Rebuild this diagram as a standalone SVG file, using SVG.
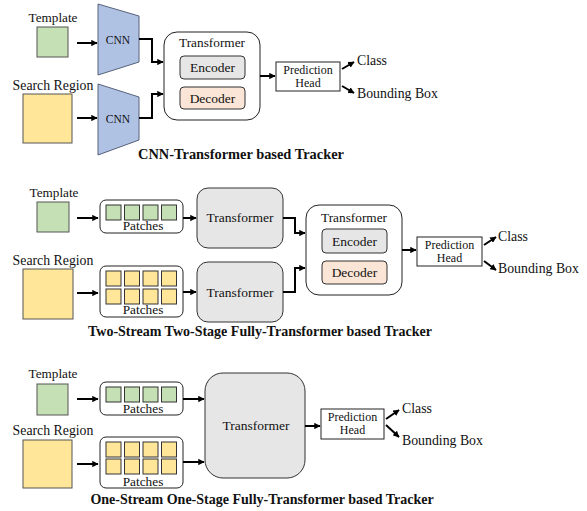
<svg xmlns="http://www.w3.org/2000/svg" width="587" height="511" viewBox="0 0 587 511">
<defs>
<marker id="ah" viewBox="0 0 10 10" refX="9" refY="5" markerWidth="3.2" markerHeight="3.2" orient="auto" markerUnits="strokeWidth">
<path d="M0,0 L10,5 L0,10 z" fill="#000"/>
</marker>
</defs>
<style>
text{font-family:"Liberation Serif",serif;fill:#111}
.lbl{font-size:13.3px;text-anchor:middle}
.tp{font-size:13.2px;text-anchor:middle}
.sr{font-size:13.8px;text-anchor:middle}
.cnnt{font-size:11.5px;text-anchor:middle}
.ed{font-size:13.5px;text-anchor:middle}
.out{font-size:13.8px}
.cap{font-size:14px;font-weight:bold;text-anchor:middle}
.ph{font-size:12px;text-anchor:middle}
.tpl{fill:#c5e0b4;stroke:#555;stroke-width:1}
.srch{fill:#ffe699;stroke:#555;stroke-width:1}
.gp{fill:#c5e0b4;stroke:#333;stroke-width:1}
.yp{fill:#ffe699;stroke:#333;stroke-width:1}
.cnn{fill:#b0c2e4;stroke:#56627a;stroke-width:1}
.box{fill:#fff;stroke:#222;stroke-width:1}
.gray{fill:#e7e6e6;stroke:#333;stroke-width:1}
.dec{fill:#fbe5d6;stroke:#333;stroke-width:1}
.c{fill:none;stroke:#000;stroke-width:2;marker-end:url(#ah)}
</style>

<!-- Section 1 -->
<g id="s1-template"><text class="tp" x="53" y="22">Template</text><rect class="tpl" x="37" y="27" width="31" height="30"/></g>
<g id="s1-search"><text class="sr" x="53" y="90">Search Region</text><rect class="srch" x="23" y="94" width="49" height="49"/></g>
<g id="s1-cnn1"><polygon class="cnn" points="98,4 139,16 139,62 98,75"/><text class="cnnt" x="118" y="44">CNN</text></g>
<g id="s1-cnn2"><polygon class="cnn" points="98,84 139,97 139,140 98,155"/><text class="cnnt" x="118" y="123">CNN</text></g>
<g id="s1-transformer"><rect class="box" x="164" y="32" width="96" height="88" rx="13"/><text class="lbl" x="212" y="47">Transformer</text></g>
<g id="s1-encoder"><rect class="gray" x="180" y="56" width="65" height="23" rx="4"/><text class="ed" x="212.5" y="72">Encoder</text></g>
<g id="s1-decoder"><rect class="dec" x="180" y="87" width="65" height="22" rx="4"/><text class="ed" x="212.5" y="103">Decoder</text></g>
<g id="s1-head"><rect class="box" x="276" y="62" width="64" height="29"/><text class="ph" x="308" y="74">Prediction</text><text class="ph" x="308" y="87">Head</text></g>
<g id="s1-outputs"><text class="out" x="357" y="65">Class</text><text class="out" x="357" y="98">Bounding Box</text></g>
<g id="s1-caption"><text class="cap" x="241" y="159" style="font-size:14.4px">CNN-Transformer based Tracker</text></g>

<!-- Section 2 -->
<g id="s2-template"><text class="tp" x="54" y="197">Template</text><rect class="tpl" x="37" y="202" width="32" height="30"/></g>
<g id="s2-search"><text class="sr" x="53" y="265">Search Region</text><rect class="srch" x="23" y="269" width="50" height="50"/></g>
<g id="s2-patches1"><rect class="box" x="100" y="200" width="83" height="33" rx="6"/>
<rect class="gp" x="106" y="205" width="15" height="15"/><rect class="gp" x="124.5" y="205" width="15" height="15"/><rect class="gp" x="143" y="205" width="15" height="15"/><rect class="gp" x="161.5" y="205" width="15" height="15"/>
<text class="lbl" x="143" y="230">Patches</text></g>
<g id="s2-patches2"><rect class="box" x="100" y="266" width="83" height="51" rx="6"/>
<rect class="yp" x="106" y="271" width="15" height="15"/><rect class="yp" x="124.5" y="271" width="15" height="15"/><rect class="yp" x="143" y="271" width="15" height="15"/><rect class="yp" x="161.5" y="271" width="15" height="15"/>
<rect class="yp" x="106" y="289" width="15" height="15"/><rect class="yp" x="124.5" y="289" width="15" height="15"/><rect class="yp" x="143" y="289" width="15" height="15"/><rect class="yp" x="161.5" y="289" width="15" height="15"/>
<text class="lbl" x="143" y="314">Patches</text></g>
<g id="s2-trans1"><rect class="gray" x="197" y="188" width="86" height="60" rx="11"/><text class="lbl" x="240" y="222" style="font-size:13.5px">Transformer</text></g>
<g id="s2-trans2"><rect class="gray" x="197" y="262" width="86" height="60" rx="11"/><text class="lbl" x="240" y="297" style="font-size:13.5px">Transformer</text></g>
<g id="s2-transformer"><rect class="box" x="306" y="205" width="96" height="90" rx="13"/><text class="lbl" x="354" y="222">Transformer</text></g>
<g id="s2-encoder"><rect class="gray" x="322" y="229" width="65" height="24" rx="4"/><text class="ed" x="354.5" y="246">Encoder</text></g>
<g id="s2-decoder"><rect class="dec" x="322" y="261" width="65" height="23" rx="4"/><text class="ed" x="354.5" y="277">Decoder</text></g>
<g id="s2-head"><rect class="box" x="417" y="237" width="65" height="29"/><text class="ph" x="449.5" y="249">Prediction</text><text class="ph" x="449.5" y="262">Head</text></g>
<g id="s2-outputs"><text class="out" x="498" y="241">Class</text><text class="out" x="498" y="273">Bounding Box</text></g>
<g id="s2-caption"><text class="cap" x="260" y="336">Two-Stream Two-Stage Fully-Transformer based Tracker</text></g>

<!-- Section 3 -->
<g id="s3-template"><text class="tp" x="53" y="378">Template</text><rect class="tpl" x="37" y="384" width="31" height="31"/></g>
<g id="s3-search"><text class="sr" x="53" y="435">Search Region</text><rect class="srch" x="23" y="440" width="49" height="48"/></g>
<g id="s3-patches1"><rect class="box" x="100" y="382" width="83" height="33" rx="6"/>
<rect class="gp" x="106" y="387" width="15" height="15"/><rect class="gp" x="124.5" y="387" width="15" height="15"/><rect class="gp" x="143" y="387" width="15" height="15"/><rect class="gp" x="161.5" y="387" width="15" height="15"/>
<text class="lbl" x="143" y="413">Patches</text></g>
<g id="s3-patches2"><rect class="box" x="100" y="437" width="83" height="51" rx="6"/>
<rect class="yp" x="106" y="442" width="15" height="15"/><rect class="yp" x="124.5" y="442" width="15" height="15"/><rect class="yp" x="143" y="442" width="15" height="15"/><rect class="yp" x="161.5" y="442" width="15" height="15"/>
<rect class="yp" x="106" y="459" width="15" height="15"/><rect class="yp" x="124.5" y="459" width="15" height="15"/><rect class="yp" x="143" y="459" width="15" height="15"/><rect class="yp" x="161.5" y="459" width="15" height="15"/>
<text class="lbl" x="143" y="486">Patches</text></g>
<g id="s3-transformer"><rect class="gray" x="205" y="373" width="100" height="105" rx="18"/><text class="lbl" x="256" y="430" style="font-size:13.5px">Transformer</text></g>
<g id="s3-head"><rect class="box" x="321" y="409" width="63" height="30"/><text class="ph" x="352.5" y="421">Prediction</text><text class="ph" x="352.5" y="434">Head</text></g>
<g id="s3-outputs"><text class="out" x="402" y="413">Class</text><text class="out" x="402" y="445">Bounding Box</text></g>
<g id="s3-caption"><text class="cap" x="262" y="504">One-Stream One-Stage Fully-Transformer based Tracker</text></g>

<g id="connectors">
<path class="c" d="M77,43 H97"/>
<path class="c" d="M77,118 H97"/>
<path class="c" d="M139,39 H152 V62 H163"/>
<path class="c" d="M139,118 H152 V94 H163"/>
<path class="c" d="M260,76 H275"/>
<path class="c" d="M342,69 L354,62"/>
<path class="c" d="M342,86 L354,93"/>
<path class="c" d="M77,218 H98"/>
<path class="c" d="M77,293 H98"/>
<path class="c" d="M183,218 H196"/>
<path class="c" d="M183,292 H196"/>
<path class="c" d="M283,218 H295 V233 H305"/>
<path class="c" d="M283,292 H295 V268 H305"/>
<path class="c" d="M402,250 H416"/>
<path class="c" d="M484,245 L496,237"/>
<path class="c" d="M484,261 L496,270"/>
<path class="c" d="M77,399 H98"/>
<path class="c" d="M77,464 H98"/>
<path class="c" d="M183,399 H204"/>
<path class="c" d="M183,462 H204"/>
<path class="c" d="M305,426 H320"/>
<path class="c" d="M386,419 L399,410"/>
<path class="c" d="M386,425 L399,437"/>
</g>
</svg>
